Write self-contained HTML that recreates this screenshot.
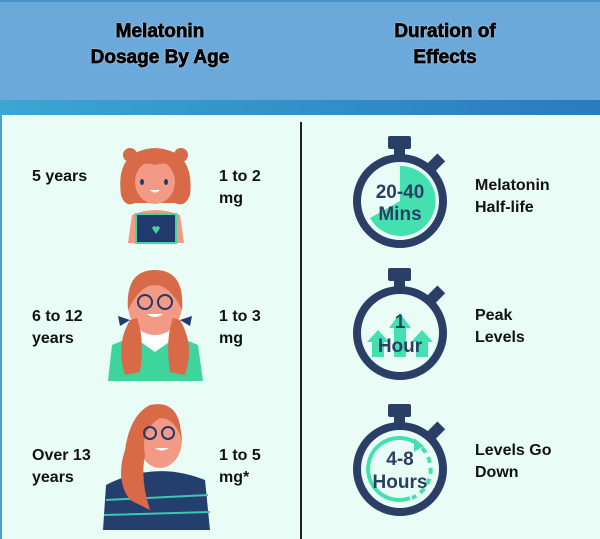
<!DOCTYPE html>
<html><head><meta charset="utf-8"><style>
body{margin:0;width:600px;height:539px;overflow:hidden;background:#eafcf6;font-family:"Liberation Sans",sans-serif}
.t{position:absolute;font-weight:bold;font-size:16px;line-height:22px;color:#111}
.h{position:absolute;font-weight:900;font-size:19px;line-height:26px;color:#000;text-align:center;-webkit-text-stroke:0.7px #000;text-shadow:0 0 2px #fff}
</style></head><body>
<div style="position:absolute;left:0;top:0;width:600px;height:100px;background:#6aa9da;border-top:2px solid #4a94cc;box-sizing:border-box"></div>
<div style="position:absolute;left:0;top:100px;width:600px;height:15px;background:linear-gradient(90deg,#3aa6d2,#2a7bbd)"></div>
<div style="position:absolute;left:0;top:115px;width:2px;height:424px;background:#4a9fd0"></div>
<div style="position:absolute;left:300px;top:122px;width:2px;height:417px;background:#222"></div>
<div class="h" style="left:60px;top:19px;width:200px">Melatonin<br>Dosage By Age</div>
<div class="h" style="left:345px;top:19px;width:200px">Duration of<br>Effects</div>

<div class="t" style="left:32px;top:166px">5 years</div>
<div class="t" style="left:219px;top:166px">1 to 2<br>mg</div>
<div class="t" style="left:32px;top:306px">6 to 12<br>years</div>
<div class="t" style="left:219px;top:306px">1 to 3<br>mg</div>
<div class="t" style="left:32px;top:445px">Over 13<br>years</div>
<div class="t" style="left:219px;top:445px">1 to 5<br>mg*</div>

<div class="t" style="left:475px;top:175px">Melatonin<br>Half-life</div>
<div class="t" style="left:475px;top:305px">Peak<br>Levels</div>
<div class="t" style="left:475px;top:440px">Levels Go<br>Down</div>

<svg width="600" height="539" style="position:absolute;left:0;top:0">
<!-- girl 1 -->
<circle cx="130" cy="155" r="7" fill="#d86a48"/><circle cx="181" cy="155" r="7" fill="#d86a48"/>
<path d="M121 195 Q115 150 155 148 Q195 150 190 195 Q185 208 175 203 L135 203 Q125 208 121 195Z" fill="#d86a48"/>
<path d="M128 243 L132 215 Q155 205 180 215 L184 243Z" fill="#f29a86"/>
<rect x="136" y="214" width="40" height="29" fill="#213a6b" stroke="#45d6a0" stroke-width="2"/>
<path d="M152 228 q3 -4 4 0 q1 -4 4 0 l-4 6z" fill="#45d6a0"/>
<ellipse cx="155" cy="182" rx="20" ry="22" fill="#f29a86"/>
<path d="M134 172 Q140 150 158 160 Q170 150 178 172 Q170 160 155 165 Q142 160 134 172Z" fill="#d86a48"/>
<ellipse cx="142" cy="182" rx="2" ry="3" fill="#213a6b"/><ellipse cx="166" cy="182" rx="2" ry="3" fill="#213a6b"/>
<path d="M150 190 q5 5 10 0z" fill="#fff"/>
<!-- girl 2 -->
<path d="M108 381 L112 345 Q155 325 198 345 L203 381Z" fill="#3dd59a"/>
<path d="M138 340 L155 352 L172 340 L168 333 L142 333Z" fill="#fff"/>
<ellipse cx="155" cy="305" rx="27" ry="30" fill="#f29a86"/>
<path d="M128 310 Q125 270 155 270 Q185 270 182 310 Q170 285 155 285 Q140 285 128 310Z" fill="#d86a48"/>
<path d="M130 320 Q115 345 125 375 L140 372 Q145 340 137 318Z" fill="#d86a48"/>
<path d="M180 320 Q195 345 185 375 L170 372 Q165 340 173 318Z" fill="#d86a48"/>
<path d="M118 316 L130 320 L120 326Z M192 316 L180 320 L190 326Z" fill="#213a6b"/>
<circle cx="145" cy="302" r="7" fill="none" stroke="#213a6b" stroke-width="2"/><circle cx="165" cy="302" r="7" fill="none" stroke="#213a6b" stroke-width="2"/>
<path d="M147 314 q8 6 16 0z" fill="#fff"/>
<!-- girl 3 -->
<path d="M103 530 L106 485 Q155 460 205 480 L210 530Z" fill="#243e6e"/>
<path d="M106 500 L208 495 M104 515 L210 512" stroke="#3cc7b0" stroke-width="2"/>
<ellipse cx="160" cy="440" rx="22" ry="28" fill="#f29a86"/>
<path d="M180 425 Q175 400 150 405 Q130 415 125 450 Q115 480 130 500 L150 510 Q140 480 145 455 Q140 430 160 418 Q175 418 182 440Z" fill="#d86a48"/>
<circle cx="150" cy="433" r="6" fill="none" stroke="#213a6b" stroke-width="2"/><circle cx="168" cy="433" r="6" fill="none" stroke="#213a6b" stroke-width="2"/>
<path d="M155 448 q7 5 14 0z" fill="#fff"/>

<!-- stopwatches -->
<g>
<rect x="388" y="136" width="23" height="13" rx="2" fill="#2b3f66"/><rect x="394" y="148" width="11" height="8" fill="#2b3f66"/>
<rect x="431" y="155" width="11" height="14" fill="#2b3f66" transform="rotate(45 436 162)"/>
<path d="M400 166 A35 35 0 1 1 370 218 L400 201Z" fill="#45e0b0"/>
<circle cx="400" cy="201" r="43" fill="none" stroke="#2b3f66" stroke-width="8"/>
</g>
<text x="400" y="198" font-size="19" font-weight="bold" fill="#2b3f66" text-anchor="middle">20-40</text>
<text x="400" y="220" font-size="19" font-weight="bold" fill="#2b3f66" text-anchor="middle">Mins</text>
<g transform="translate(0,132)">
<rect x="388" y="136" width="23" height="13" rx="2" fill="#2b3f66"/><rect x="394" y="148" width="11" height="8" fill="#2b3f66"/>
<rect x="431" y="155" width="11" height="14" fill="#2b3f66" transform="rotate(45 436 162)"/>
<path d="M367 210 L378 198 L389 210 L384 210 L384 225 L372 225 L372 210Z M389 196 L400 181 L411 196 L406 196 L406 225 L394 225 L394 196Z M411 210 L422 198 L433 210 L428 210 L428 225 L416 225 L416 210Z" fill="#45e0b0"/>
<circle cx="400" cy="201" r="43" fill="none" stroke="#2b3f66" stroke-width="8"/>
</g>
<text x="400" y="328" font-size="19" font-weight="bold" fill="#2b3f66" text-anchor="middle">1</text>
<text x="400" y="352" font-size="19" font-weight="bold" fill="#2b3f66" text-anchor="middle">Hour</text>
<g transform="translate(0,268)">
<rect x="388" y="136" width="23" height="13" rx="2" fill="#2b3f66"/><rect x="394" y="148" width="11" height="8" fill="#2b3f66"/>
<rect x="431" y="155" width="11" height="14" fill="#2b3f66" transform="rotate(45 436 162)"/>
<path d="M420 178 A31 31 0 1 0 410 230" fill="none" stroke="#45e0b0" stroke-width="4"/>
<path d="M422 180 A31 31 0 0 1 412 230" fill="none" stroke="#45e0b0" stroke-width="4" stroke-dasharray="6 5"/>
<path d="M414 170 L424 178 L414 184Z" fill="#45e0b0"/>
<circle cx="400" cy="201" r="43" fill="none" stroke="#2b3f66" stroke-width="8"/>
</g>
<text x="400" y="465" font-size="19" font-weight="bold" fill="#2b3f66" text-anchor="middle">4-8</text>
<text x="400" y="488" font-size="19" font-weight="bold" fill="#2b3f66" text-anchor="middle">Hours</text>
</svg>
</body></html>
